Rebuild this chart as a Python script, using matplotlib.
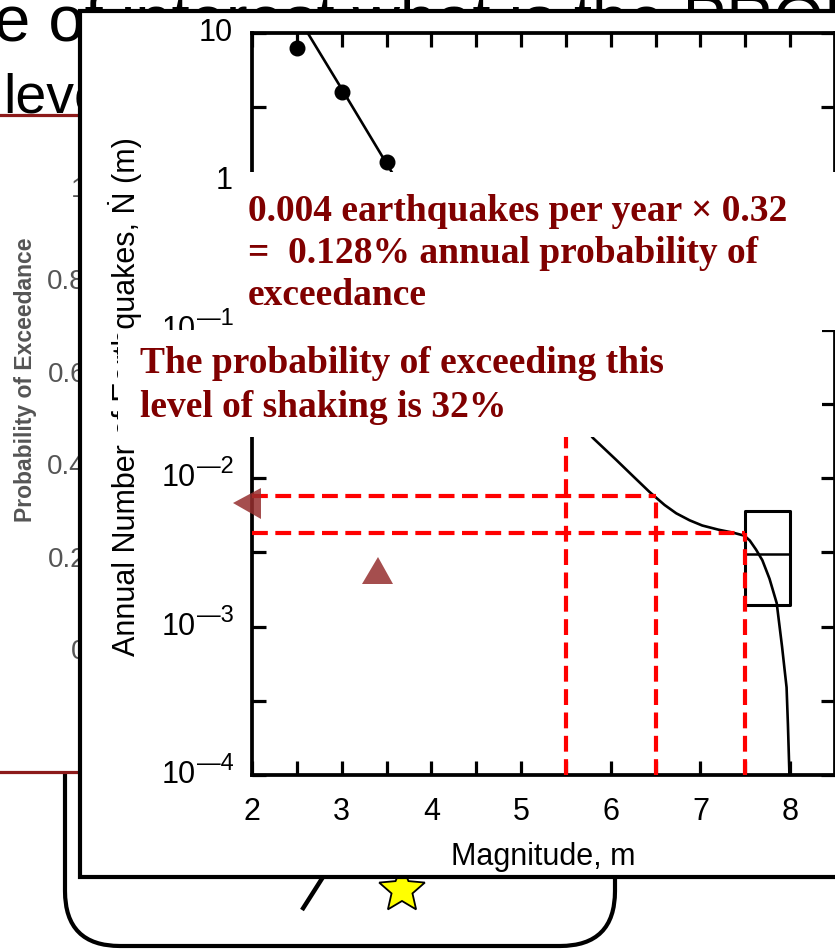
import numpy as np
import matplotlib
matplotlib.use("Agg")
import matplotlib.pyplot as plt
import matplotlib.transforms as mtransforms
from matplotlib.patches import Rectangle, FancyBboxPatch, Polygon
from matplotlib.ticker import FixedLocator, NullFormatter

plt.rcParams['font.family'] = ['Liberation Sans', 'DejaVu Sans']

# ---------------- data ----------------
# recurrence curve (magnitude vs annual rate of exceedance)
mag_curve = [2.6, 3.0, 3.5, 4.0, 4.5, 5.0, 5.5, 5.8, 6.06, 6.25, 6.43, 6.6, 6.73,
             6.88, 7.02, 7.2, 7.36, 7.49, 7.55, 7.62, 7.69, 7.77, 7.85, 7.91, 7.94,
             7.96, 7.975, 7.99, 8.0]
rate_curve = [10.5, 4.2, 1.32, 0.42, 0.16, 0.068, 0.033, 0.0187, 0.0133, 0.0103, 0.0081,
              0.0066, 0.0058, 0.0052, 0.0048, 0.0045, 0.0043, 0.0041, 0.0038, 0.0033,
              0.0028, 0.0021, 0.00144, 0.00073, 0.0005, 0.00039, 0.00022, 0.00011, 0.00005]
# observed data points
mag_pts = [2.5, 3.0, 3.5]
rate_pts = [7.9, 4.0, 1.35]
# characteristic-earthquake box
box_mag = [7.5, 8.0]
box_rate = [0.0014, 0.0031, 0.006]
# red dashed guide lines
guide_mags = [5.5, 6.5, 7.5]
guide_mag_tops = [0.033, 0.0076, 0.0043]
guide_rates = [0.0076, 0.0043]
guide_rate_ends = [6.5, 7.5]
# ticks and tick labels
x_ticks = [2, 3, 4, 5, 6, 7, 8]
x_minor = [2.5, 3.5, 4.5, 5.5, 6.5, 7.5, 8.5]
y_ticks = [1e-4, 1e-3, 1e-2, 1e-1, 1, 10]
y_label_base = ["10", "10", "10", "10", "1", "10"]
y_label_exp = ["\u20144", "\u20143", "\u20142", "\u20141", "", ""]
y_minor = [10 ** (k + 0.5) for k in range(-4, 1)]
back_ticks = ["1", "0.8", "0.6", "0.4", "0.2", "0"]
back_vals = [1.0, 0.8, 0.6, 0.4, 0.2, 0.0]

slide_line1 = "e of interest what is the PROBABILITY"
slide_line2 = "level"
box1_lines = ["0.004 earthquakes per year \u00d7 0.32",
              "=  0.128% annual probability of",
              "exceedance"]
box2_lines = ["The probability of exceeding this",
              "level of shaking is 32%"]

W, H = 835, 949
fig = plt.figure(figsize=(W / 100, H / 100), dpi=100)

# ---------------- background slide (pixel coordinates) ----------------
bg = fig.add_axes([0, 0, 1, 1], zorder=0)
bg.set_xlim(0, W)
bg.set_ylim(H, 0)
bg.axis('off')

bg.text(-6, 40, slide_line1, fontsize=47, color='black', va='baseline', ha='left', zorder=1)
bg.text(3, 112, slide_line2, fontsize=40, color='black', va='baseline', ha='left', zorder=1)

# rounded rectangle behind
bg.add_patch(FancyBboxPatch((65 + 55, 600), 550 - 110, 346 - 55,
                            boxstyle="round,pad=55", fc='white', ec='black', lw=3, zorder=2))
bg.plot([323, 302], [877, 910], color='black', lw=3.2, zorder=2.2, solid_capstyle='butt')
# star
ang = np.pi / 2 + np.arange(10) * np.pi / 5
rad = np.where(np.arange(10) % 2 == 0, 24, 11)
sx = 402 + rad * np.cos(ang)
sy = 890 - rad * np.sin(ang)
bg.add_patch(Polygon(np.column_stack([sx, sy]), closed=True, fc='#ffff00', ec='black', lw=1.3, zorder=2.5))

# red framed back chart
bg.add_patch(Rectangle((-20, 115), 200, 657, fc='white', ec='#8c1a1a', lw=2.3, zorder=3))
for lab, v in zip(back_ticks, back_vals):
    y = 652 - v * (652 - 190)
    bg.text(86, y, lab, fontsize=20, color='#555555', ha='right', va='center', zorder=4)
bg.text(26, 380, "Probability of Exceedance", fontsize=16.5, fontweight='bold', color='#555555',
        rotation=90, ha='center', va='center', zorder=4)

# front frame
bg.add_patch(Rectangle((80, 11), 800, 866, fc='white', ec='black', lw=3, zorder=5))

# ---------------- main chart ----------------
x0, x1, y0, y1 = 252, 835, 33, 775
ax = fig.add_axes([x0 / W, 1 - y1 / H, (x1 - x0) / W, (y1 - y0) / H], zorder=1)
ax.set_facecolor('none')
ax.set_yscale('log')
ax.set_xlim(2, 8.5)
ax.set_ylim(1e-4, 10)

ax.plot(mag_curve, rate_curve, color='black', lw=1.9, zorder=3)
ax.plot(mag_pts, rate_pts, 'o', color='black', ms=10.5, zorder=4)
ax.plot([box_mag[0], box_mag[1], box_mag[1], box_mag[0], box_mag[0]],
        [box_rate[0], box_rate[0], box_rate[2], box_rate[2], box_rate[0]],
        color='black', lw=2.2, zorder=3)
ax.plot(box_mag, [box_rate[1], box_rate[1]], color='black', lw=1.8, zorder=3)

dash = (0, (3.8, 1.8))
for m, top in zip(guide_mags, guide_mag_tops):
    ax.plot([m, m], [1e-4, top], color='#ff0000', lw=3.0, linestyle=dash, zorder=5)
for r, end in zip(guide_rates, guide_rate_ends):
    ax.plot([2, end], [r, r], color='#ff0000', lw=3.0, linestyle=dash, zorder=5)

ax.xaxis.set_major_locator(FixedLocator(x_ticks))
ax.xaxis.set_minor_locator(FixedLocator(x_minor))
ax.yaxis.set_major_locator(FixedLocator(y_ticks))
ax.yaxis.set_major_formatter(NullFormatter())
ax.yaxis.set_minor_locator(FixedLocator(y_minor))
ax.yaxis.set_minor_formatter(NullFormatter())
ax.tick_params(which='both', direction='in', top=True, right=True, length=10, width=2.3,
               labelsize=22, colors='black')
ax.tick_params(axis='x', pad=16)
ax.tick_params(axis='y', labelleft=False)
for s in ax.spines.values():
    s.set_linewidth(2.7)

# y tick labels: base with a large raised exponent
ytrans = ax.get_yaxis_transform()
ytrans_up = mtransforms.offset_copy(ytrans, fig=fig, x=0, y=11, units='dots')
for v, base, ex in zip(y_ticks, y_label_base, y_label_exp):
    if ex:
        ax.text((196 - x0) / (x1 - x0), v, base, transform=ytrans, fontsize=22,
                ha='right', va='center', clip_on=False)
        ax.text((234 - x0) / (x1 - x0), v, ex, transform=ytrans_up, fontsize=17,
                ha='right', va='center', clip_on=False)
    else:
        ax.text((233 - x0) / (x1 - x0), v, base, transform=ytrans, fontsize=22,
                ha='right', va='center', clip_on=False)

ax.set_xlabel("Magnitude, m", fontsize=22)
ax.xaxis.label.set_va('center')
ax.xaxis.set_label_coords(0.5, (y1 - 857) / (y1 - y0))
ax.set_ylabel("Annual Number of Earthquakes, \u1e44 (m)", fontsize=22)
ax.yaxis.label.set_va('center')
ax.yaxis.set_label_coords((125 - x0) / (x1 - x0), (y1 - 397) / (y1 - y0))

# ---------------- overlay annotations ----------------
ov = fig.add_axes([0, 0, 1, 1], zorder=2)
ov.set_xlim(0, W)
ov.set_ylim(H, 0)
ov.axis('off')
ov.patch.set_alpha(0)

ov.add_patch(Rectangle((233, 172), 620, 158, fc='white', ec='none', zorder=1))
ov.add_patch(Rectangle((118, 330), 704, 107, fc='white', ec='none', zorder=1))
serif = ['Liberation Serif', 'DejaVu Serif']
for txt, yb in zip(box1_lines, [221, 263, 305]):
    ov.text(248, yb, txt, fontsize=27, fontweight='bold', color='#800000', family=serif,
            ha='left', va='baseline', zorder=2)
for txt, yb in zip(box2_lines, [373, 417]):
    ov.text(140, yb, txt, fontsize=27, fontweight='bold', color='#800000', family=serif,
            ha='left', va='baseline', zorder=2)

tri_col = '#962f2f'
ov.add_patch(Polygon([[233, 503], [261, 488], [261, 519]], closed=True, fc=tri_col, ec='none',
                     alpha=0.85, zorder=3))
ov.add_patch(Polygon([[378, 557], [362, 584], [393, 584]], closed=True, fc=tri_col, ec='none',
                     alpha=0.85, zorder=3))

fig.savefig("out.png", dpi=100)
